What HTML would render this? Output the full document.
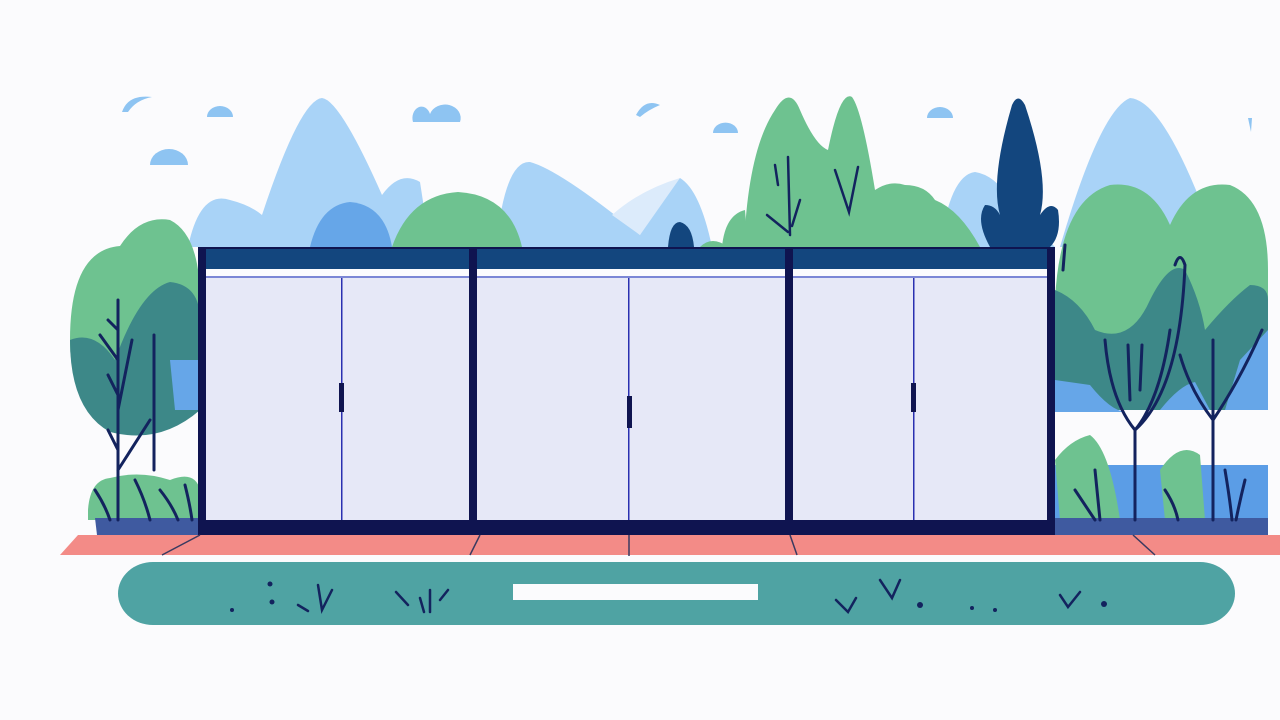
<!DOCTYPE html>
<html><head><meta charset="utf-8"><style>html,body{margin:0;padding:0;background:#fbfbfd}svg{display:block}</style></head>
<body>
<svg width="1280" height="720" viewBox="0 0 1280 720" xmlns="http://www.w3.org/2000/svg">
<rect width="1280" height="720" fill="#fbfbfd"/>
<!-- clouds -->
<g fill="#8ec4f2">
<path d="M122 112 Q128 94 152 97 Q136 100 128 112Z"/>
<path d="M207 117 A13 11 0 0 1 233 117Z"/>
<path d="M150 165 A19 16 0 0 1 188 165Z"/>
<path d="M413 122 A8 10 0 0 1 430 114 A14 12 0 0 1 460 122Z"/>
<path d="M636 115 Q645 98 660 105 Q648 110 640 117Z"/>
<path d="M713 133 A12 10 0 0 1 738 133Z"/>
<path d="M927 118 A13 11 0 0 1 953 118Z"/>
<path d="M1248 118 L1252 118 L1251 132Z"/>
</g>
<!-- mountains -->
<g fill="#a9d3f7">
<path d="M188 247 Q200 190 230 200 Q250 205 262 215 Q300 100 322 98 Q340 100 382 195 Q400 170 420 182 L430 247Z"/>
<path d="M496 247 Q505 160 530 162 Q560 170 640 235 Q660 190 680 178 Q700 190 712 247Z"/>
<path d="M940 247 Q950 175 975 172 Q995 175 1010 200 L1055 247Z"/>
<path d="M1060 247 Q1100 110 1130 98 Q1160 100 1200 200 L1200 247Z"/>
</g>
<path d="M612 215 Q640 190 680 178 L640 235Z" fill="#dcebfb"/>
<path d="M310 247 Q320 205 350 202 Q385 205 392 247Z" fill="#66a6e8"/>
<path d="M392 247 Q410 195 458 192 Q510 195 522 247Z" fill="#6ec290"/>
<!-- center greens -->
<path d="M744 247 Q748 150 775 110 Q790 85 800 110 Q815 145 828 150 Q840 90 852 97 Q862 110 875 190 Q890 180 905 185 Q925 185 935 200 Q960 210 980 247Z" fill="#6ec290"/>
<path d="M722 247 Q725 215 745 210 L748 247Z" fill="#6ec290"/>
<path d="M668 247 Q670 222 680 222 Q692 225 694 247Z" fill="#13467e"/>
<path d="M700 247 Q712 235 728 247Z" fill="#6ec290"/>
<!-- dark cypress -->
<path d="M990 247 Q975 220 985 205 Q995 205 1000 215 Q990 180 1012 105 Q1018 92 1025 105 Q1050 180 1040 215 Q1050 200 1058 210 Q1062 235 1050 247Z" fill="#13467e"/>
<g stroke="#13235e" stroke-width="2.5" fill="none" stroke-linecap="round">
<path d="M788 157 L790 235 M775 165 L778 185 M767 215 L788 232 M800 200 L792 226 M835 170 L849 212 L858 167"/>
</g>
<!-- left trees -->
<path d="M70 340 Q70 250 120 246 Q140 215 170 220 Q200 235 200 300 L200 410 Q150 440 110 430 Q70 400 70 340Z" fill="#6ec290"/>
<path d="M70 340 Q95 330 115 360 Q140 290 170 282 Q200 285 200 320 L200 410 Q160 445 110 432 Q70 410 70 340Z" fill="#3d8888"/>
<path d="M170 360 L200 360 L200 410 L175 410Z" fill="#66a6e8"/>
<path d="M88 510 Q90 480 110 478 Q140 470 170 480 Q195 470 200 490 L200 520 L88 520Z" fill="#6ec290"/>
<path d="M95 518 L200 518 L200 535 L97 535Z" fill="#3f5aa0"/>
<g stroke="#13235e" stroke-width="3" fill="none" stroke-linecap="round">
<path d="M118 300 L118 520 M118 330 L108 320 M118 360 L100 335 M118 395 L108 375 M118 410 L132 340 M118 470 L150 420 M154 335 L154 470 M118 450 L108 430"/>
<path d="M95 490 Q105 505 110 520 M135 480 Q145 500 150 520 M160 490 Q172 505 178 520 M185 485 Q190 505 192 520"/>
</g>
<!-- right trees -->
<path d="M1055 300 Q1060 200 1110 185 Q1150 180 1170 225 Q1190 180 1230 185 Q1268 200 1268 270 L1268 410 L1055 410Z" fill="#6ec290"/>
<path d="M1055 290 Q1080 300 1095 330 Q1130 345 1150 300 Q1170 260 1185 270 Q1200 300 1205 330 Q1230 300 1250 285 Q1268 285 1268 300 L1268 410 L1055 410Z" fill="#3d8888"/>
<path d="M1055 380 L1090 385 Q1110 410 1125 412 L1055 412Z M1160 410 Q1180 385 1195 382 L1210 410Z M1240 360 L1268 330 L1268 410 L1225 410Z" fill="#66a6e8"/>
<path d="M1055 465 L1268 465 L1268 520 L1055 520Z" fill="#5b9de6"/>
<path d="M1055 460 Q1070 440 1090 435 Q1110 450 1120 520 L1060 520Z M1160 470 Q1180 440 1200 455 L1205 520 L1165 520Z" fill="#6ec290"/>
<path d="M1055 518 L1268 518 L1268 535 L1055 535Z" fill="#3f5aa0"/>
<g stroke="#13235e" stroke-width="3" fill="none" stroke-linecap="round">
<path d="M1135 520 L1135 430 Q1110 400 1105 340 M1135 430 Q1160 400 1170 330 M1130 400 L1128 345 M1140 390 L1142 345 M1135 430 Q1180 390 1185 265 Q1180 250 1175 265"/>
<path d="M1213 520 L1213 420 Q1190 390 1180 355 M1213 420 Q1240 380 1262 330 M1213 420 L1213 340"/>
<path d="M1065 245 L1063 270 M1075 490 Q1085 505 1095 520 M1095 470 L1100 520 M1165 490 Q1175 505 1178 520 M1225 470 Q1230 500 1232 520 M1245 480 Q1240 500 1236 520"/>
</g>
<!-- building -->
<rect x="198" y="247" width="857" height="288" fill="#0f1450"/>
<rect x="206" y="249" width="263" height="20" fill="#13467e"/>
<rect x="477" y="249" width="308" height="20" fill="#13467e"/>
<rect x="793" y="249" width="254" height="20" fill="#13467e"/>
<rect x="206" y="269" width="263" height="251" fill="#e6e8f7"/>
<rect x="477" y="269" width="308" height="251" fill="#e6e8f7"/>
<rect x="793" y="269" width="254" height="251" fill="#e6e8f7"/>
<g fill="#fbfbfe"><rect x="206" y="269" width="263" height="7"/><rect x="477" y="269" width="308" height="7"/><rect x="793" y="269" width="254" height="7"/></g>
<g fill="#7b86d6"><rect x="206" y="276" width="263" height="2"/><rect x="477" y="276" width="308" height="2"/><rect x="793" y="276" width="254" height="2"/></g>
<g fill="#2a2fb0"><rect x="341" y="278" width="1.5" height="242"/><rect x="628" y="278" width="1.5" height="242"/><rect x="913" y="278" width="1.5" height="242"/></g>
<g fill="#0f1450"><rect x="339" y="383" width="5" height="29"/><rect x="627" y="396" width="5" height="32"/><rect x="911" y="383" width="5" height="29"/></g>
<!-- salmon ground -->
<path d="M78 535 L1280 535 L1280 555 L60 555Z" fill="#f38b87"/>
<g stroke="#3a3a60" stroke-width="1.5">
<path d="M200 535 L162 555 M480 535 L470 555 M629 535 L629 556 M790 535 L797 555 M1133 535 L1155 555"/>
</g>
<!-- green oval -->
<rect x="118" y="562" width="1117" height="63" rx="35" fill="#4fa3a3"/>
<rect x="513" y="584" width="245" height="16" fill="#fbfbfd"/>
<g stroke="#13235e" stroke-width="2.5" fill="none" stroke-linecap="round">
<path d="M298 605 L308 611 M318 585 L322 610 L332 590 M396 592 L408 605 M420 598 L424 612 M430 590 L430 612 M440 600 L448 590 M836 600 L848 612 L856 598 M880 580 L892 598 L900 580 M1060 595 L1068 607 L1080 592"/>
</g>
<g fill="#13235e"><circle cx="270" cy="584" r="2.5"/><circle cx="272" cy="602" r="2.5"/><circle cx="232" cy="610" r="2"/><circle cx="920" cy="605" r="3"/><circle cx="972" cy="608" r="2"/><circle cx="995" cy="610" r="2"/><circle cx="1104" cy="604" r="3"/></g>
</svg>
</body></html>
